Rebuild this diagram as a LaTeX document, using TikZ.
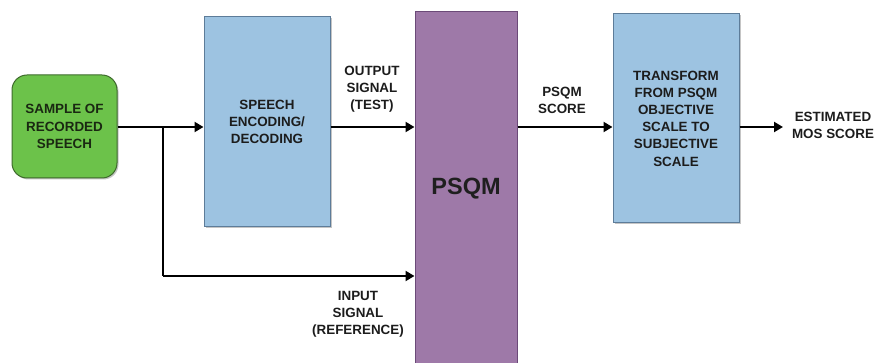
\documentclass[tikz,border=0pt]{standalone}
\usepackage{fontspec}
\setmainfont{Liberation Sans}
\usetikzlibrary{arrows.meta,shadows}

\definecolor{srcgreen}{HTML}{6CC24A}
\definecolor{srcedge}{HTML}{3E6B2C}
\definecolor{srctext}{HTML}{1A2812}
\definecolor{procblue}{HTML}{9DC3E1}
\definecolor{procedge}{HTML}{5D7C99}
\definecolor{psqmfill}{HTML}{9E79A8}
\definecolor{psqmedge}{HTML}{6B4A78}
\definecolor{txt}{HTML}{1C1C1C}

\tikzset{
  txtfont/.style={font=\bfseries\fontsize{13.4}{17.2}\selectfont},
  lbl/.style={txtfont, text=txt, align=center, inner sep=0pt},
  srcbox/.style={draw=srcedge, line width=1pt, fill=srcgreen, rounded corners=15pt,
    minimum width=105pt, minimum height=103pt, inner sep=0pt,
    drop shadow={shadow xshift=1.5pt, shadow yshift=-1.5pt, opacity=0.45},
    txtfont, text=srctext, align=center},
  procbox/.style={draw=procedge, line width=1pt, fill=procblue,
    minimum width=126pt, inner sep=0pt,
    drop shadow={shadow xshift=1.5pt, shadow yshift=-1.5pt, opacity=0.45},
    txtfont, text=txt, align=center},
  psqmbox/.style={draw=psqmedge, line width=1pt, fill=psqmfill,
    minimum width=102pt, minimum height=358pt, inner sep=0pt},
  flow/.style={line width=2.3pt, black, -{Triangle[length=9pt,width=10pt]}},
  plain/.style={line width=2.3pt, black}
}

\begin{document}
\begin{tikzpicture}[x=1pt,y=-1pt]
  \useasboundingbox[fill=white] (0,0) rectangle (881,363);

  % blocks
  \node[srcbox] (src) at (64.5,126.5) {SAMPLE OF\\RECORDED\\SPEECH};
  \node[procbox, minimum height=210pt] (enc) at (267,122) {SPEECH\\ENCODING/\\DECODING};
  \node[psqmbox] (psqm) at (466,191) {};
  \node[font=\bfseries\fontsize{23.5}{26}\selectfont, text=black!88] (psqmtxt) at (466,189) {PSQM};
  \node[procbox, minimum height=209pt] (tr) at (676,118.5)
    {TRANSFORM\\FROM PSQM\\OBJECTIVE\\SCALE TO\\SUBJECTIVE\\SCALE};

  % signal path helpers
  \coordinate (lvl) at (0,127);
  \coordinate (split) at (163,127);
  \coordinate (refturn) at (163,276);
  \coordinate (mos) at (783,127);

  % connectors
  \draw[flow] (src.east |- lvl) -- (enc.west |- lvl);
  \draw[plain] (split) -- (refturn);
  \draw[flow] (refturn) -- (refturn -| psqm.west);
  \draw[flow] (enc.east |- lvl) -- (psqm.west |- lvl);
  \draw[flow] (psqm.east |- lvl) -- (tr.west |- lvl);
  \draw[flow] (tr.east |- lvl) -- (mos);

  % connector labels
  \node[lbl] (outlbl) at (372,89) {OUTPUT\\SIGNAL\\(TEST)};
  \node[lbl] (scorelbl) at (562,100) {PSQM\\SCORE};
  \node[lbl] (mostxt) at (833,125.5) {ESTIMATED\\MOS SCORE};
  \node[lbl] (inlbl) at (358,314.5) {INPUT\\SIGNAL\\(REFERENCE)};
\end{tikzpicture}
\end{document}
